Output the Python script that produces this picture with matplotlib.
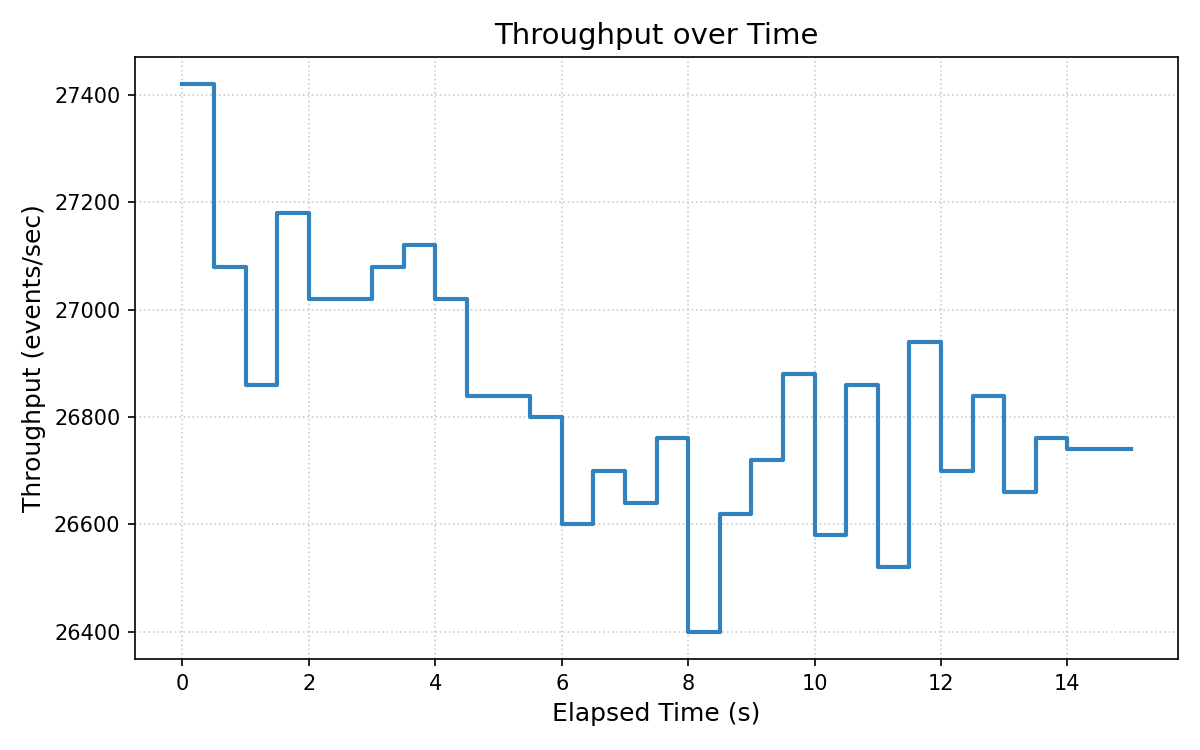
import matplotlib
matplotlib.use("Agg")
import matplotlib.pyplot as plt

elapsed = [0.0, 0.5, 1.0, 1.5, 2.0, 2.5, 3.0, 3.5, 4.0, 4.5, 5.0, 5.5, 6.0, 6.5, 7.0, 7.5,
           8.0, 8.5, 9.0, 9.5, 10.0, 10.5, 11.0, 11.5, 12.0, 12.5, 13.0, 13.5, 14.0, 14.5, 15.0]
throughput = [27420, 27080, 26860, 27180, 27020, 27020, 27080, 27120, 27020, 26840, 26840, 26800,
              26600, 26700, 26640, 26760, 26400, 26620, 26720, 26880, 26580, 26860, 26520, 26940,
              26700, 26840, 26660, 26760, 26740, 26740, 26740]

fig, ax = plt.subplots(figsize=(8, 5), dpi=150)
ax.step(elapsed, throughput, where='post', color='#3182bd', linewidth=2)
ax.set_title("Throughput over Time", fontsize=14)
ax.set_xlabel("Elapsed Time (s)", fontsize=12)
ax.set_ylabel("Throughput (events/sec)", fontsize=12)
ax.grid(True, linestyle=':', color='#cccccc', linewidth=0.8)
ax.set_yticks([26400, 26600, 26800, 27000, 27200, 27400])
fig.subplots_adjust(left=0.1125, right=0.9817, top=0.924, bottom=0.1213)
fig.savefig("out.png")
